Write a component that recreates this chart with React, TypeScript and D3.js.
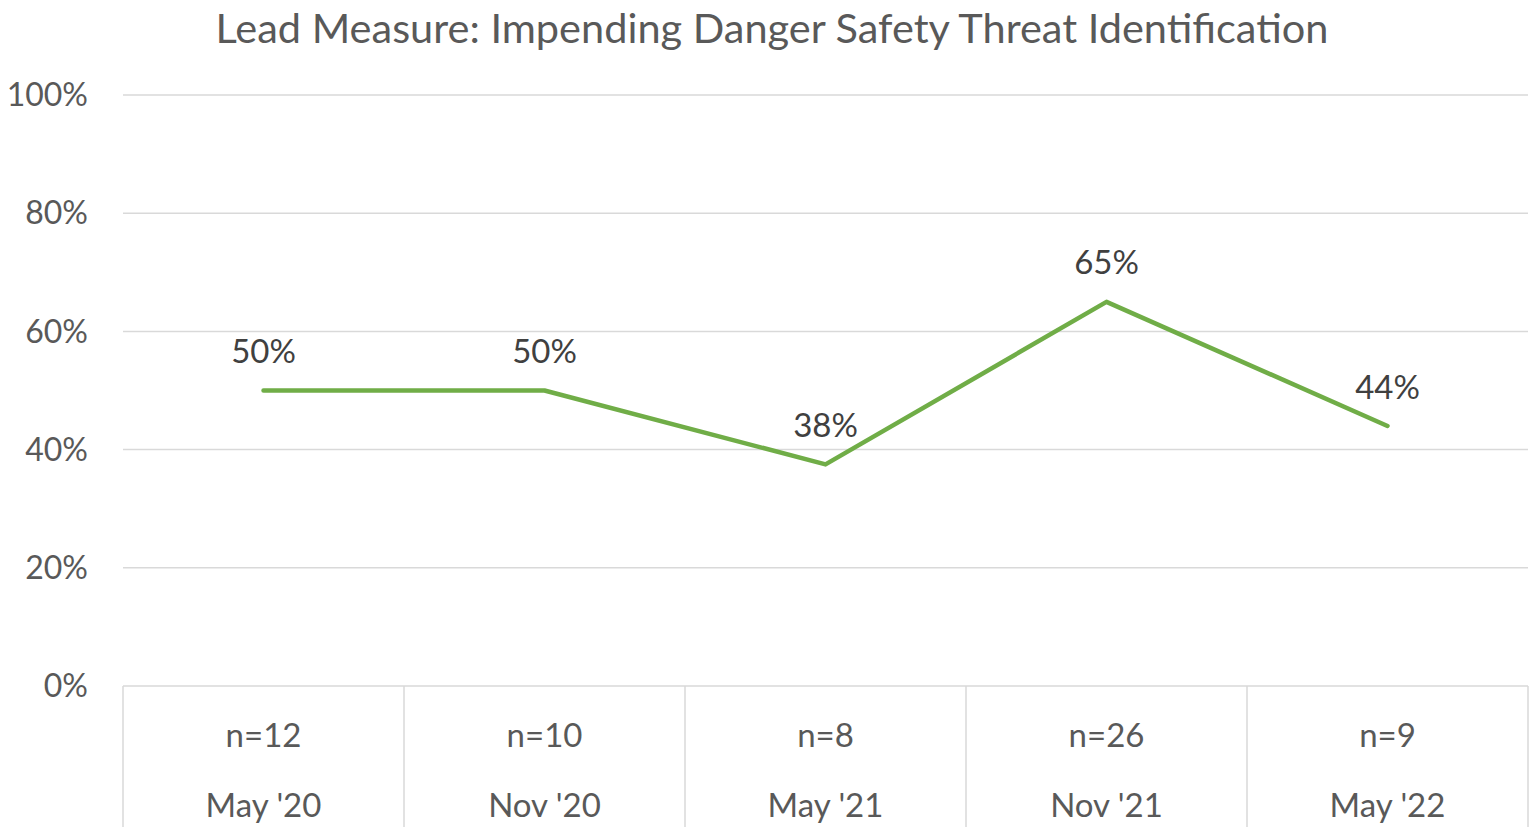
import React from "react";
import * as d3 from "d3";

const categories = ["May '20", "Nov '20", "May '21", "Nov '21", "May '22"];
const sampleSizes = ["n=12", "n=10", "n=8", "n=26", "n=9"];
const values = [0.5, 0.5, 0.375, 0.65, 0.44];
const valueLabels = ["50%", "50%", "38%", "65%", "44%"];
const yTicks = [0, 0.2, 0.4, 0.6, 0.8, 1.0];
const title = "Lead Measure: Impending Danger Safety Threat Identification";

const W = 1533;
const H = 827;
const left = 123;
const right = 1528;
const top = 95;
const bottom = 686;
const FONT = "Lato, 'Open Sans', sans-serif";

export default function App() {
  const x = d3.scaleBand<string>().domain(categories).range([left, right]).padding(0);
  const y = d3.scaleLinear().domain([0, 1]).range([bottom, top]);
  const cx = (c: string) => (x(c) as number) + x.bandwidth() / 2;
  const line = d3
    .line<number>()
    .x((_, i) => cx(categories[i]))
    .y((d) => y(d));
  const bounds = [...categories.map((c) => x(c) as number), right];

  return (
    <svg width={W} height={H} style={{ position: "absolute", left: 0, top: 0 }}>
      <rect width={W} height={H} fill="#ffffff" />
      <text x={772} y={28} dy="0.35em" textAnchor="middle" fontFamily={FONT} fontSize={41.5} fill="#595959">
        {title}
      </text>
      {yTicks.map((t) => (
        <g key={t}>
          {t > 0 && (
            <line x1={left} x2={right} y1={y(t)} y2={y(t)} stroke="#d9d9d9" strokeWidth={1.5} />
          )}
          <text x={88} y={y(t)} dy="0.35em" textAnchor="end" fontFamily={FONT} fontSize={32} fill="#595959">
            {d3.format(".0%")(t)}
          </text>
        </g>
      ))}
      <line x1={left} x2={right} y1={bottom} y2={bottom} stroke="#d9d9d9" strokeWidth={1.5} />
      {bounds.map((b, i) => (
        <line key={i} x1={b} x2={b} y1={bottom} y2={H} stroke="#d9d9d9" strokeWidth={1.5} />
      ))}
      {categories.map((c, i) => (
        <g key={c}>
          <text x={cx(c)} y={735} dy="0.35em" textAnchor="middle" fontFamily={FONT} fontSize={33} fill="#595959">
            {sampleSizes[i]}
          </text>
          <text x={cx(c)} y={805} dy="0.35em" textAnchor="middle" fontFamily={FONT} fontSize={33} fill="#595959">
            {c}
          </text>
        </g>
      ))}
      <path d={line(values) || ""} fill="none" stroke="#70ad47" strokeWidth={4.5} strokeLinecap="round" strokeLinejoin="round" />
      {values.map((v, i) => (
        <text key={i} x={cx(categories[i])} y={y(v) - 39} dy="0.35em" textAnchor="middle" fontFamily={FONT} fontSize={33} fill="#404040">
          {valueLabels[i]}
        </text>
      ))}
    </svg>
  );
}
